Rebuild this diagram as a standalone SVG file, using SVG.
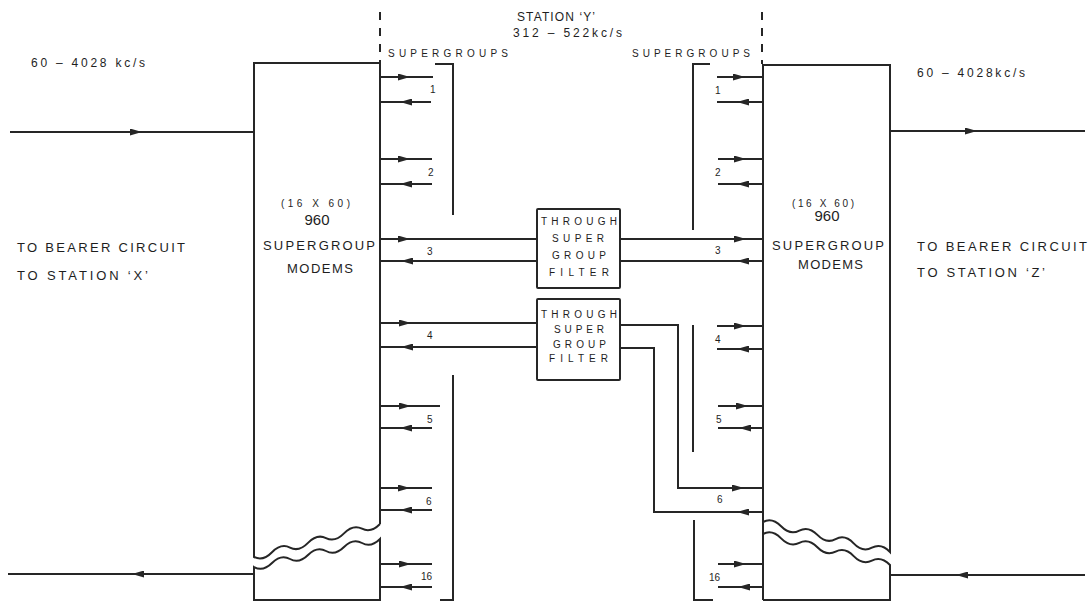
<svg xmlns="http://www.w3.org/2000/svg" width="1089" height="601" viewBox="0 0 1089 601">
<style>
.ln{fill:none;stroke:#262626;stroke-width:2;stroke-linejoin:miter}
.ar{fill:none;stroke:#262626;stroke-width:2;marker-mid:url(#ah)}
.dash{fill:none;stroke:#262626;stroke-width:2;stroke-dasharray:8 8}
.t{font-family:"Liberation Sans","DejaVu Sans",sans-serif;fill:#1e1e1e}
.big{font-size:13px}
.mid{font-size:12px}
.sm{font-size:10px}
.xs{font-size:10px}
</style>
<defs>
<marker id="ah" viewBox="0 0 12 7" refX="6" refY="3.5" markerWidth="12" markerHeight="7" markerUnits="userSpaceOnUse" orient="auto">
<path d="M0,0 L12,3.5 L0,7 z" fill="#262626"/>
</marker>
</defs>
<rect width="1089" height="601" fill="#ffffff"/>

<g id="station-y-header">
<text class="t mid" x="517" y="21" textLength="78" lengthAdjust="spacing">STATION ‘Y’</text>
<text class="t mid" x="513" y="37" textLength="109" lengthAdjust="spacing">312 – 522kc/s</text>
<path class="dash" d="M380,12 L380,62"/>
<path class="dash" d="M762,12 L762,64"/>
<text class="t xs" x="388" y="57" textLength="120" lengthAdjust="spacing">SUPERGROUPS</text>
<text class="t xs" x="632" y="57" textLength="118" lengthAdjust="spacing">SUPERGROUPS</text>
</g>

<g id="left-terminal">
<text class="t mid" x="31" y="67" textLength="114" lengthAdjust="spacing">60 – 4028 kc/s</text>
<text class="t big" x="17" y="252" textLength="168" lengthAdjust="spacing">TO BEARER CIRCUIT</text>
<text class="t big" x="17" y="280" textLength="131" lengthAdjust="spacing">TO STATION ‘X’</text>
</g>

<g id="right-terminal">
<text class="t mid" x="917" y="77" textLength="108" lengthAdjust="spacing">60 – 4028kc/s</text>
<text class="t big" x="917" y="251" textLength="170" lengthAdjust="spacing">TO BEARER CIRCUIT</text>
<text class="t big" x="917" y="277" textLength="128" lengthAdjust="spacing">TO STATION ‘Z’</text>
</g>

<g id="left-modems">
<path class="ln" d="M380,524 L380,63 L254,63 L254,557 Q263,561.6 272,552.3 T290,547.6 T308,542.9 T326,538.1 T344,533.4 T362,528.7 T380,524"/>
<path class="ln" d="M254,600 L254,567 Q263,572 272,563 T290,559 T308,555 T326,551 T344,547 T362,543 T380,539 L380,600 Z"/>
<text class="t sm" x="281" y="207" textLength="69" lengthAdjust="spacing">(16 X 60)</text>
<text class="t" x="317" y="225" font-size="15" text-anchor="middle">960</text>
<text class="t big" x="263" y="250" textLength="112" lengthAdjust="spacing">SUPERGROUP</text>
<text class="t big" x="287" y="273" textLength="66" lengthAdjust="spacing">MODEMS</text>
</g>

<g id="right-modems">
<path class="ln" d="M763,522 Q772.1,517.1 781.1,526.3 T799.3,530.6 T817.4,534.9 T835.6,539.1 T853.7,543.4 T871.9,547.7 T890,552 L890,65 L763,65 L763,600"/>
<path class="ln" d="M763,534 Q772.1,529.2 781.1,538.4 T799.3,542.9 T817.4,547.3 T835.6,551.7 T853.7,556.1 T871.9,560.6 T890,565 L890,600 L763,600"/>
<text class="t sm" x="792" y="207" textLength="62" lengthAdjust="spacing">(16 X 60)</text>
<text class="t" x="827" y="221" font-size="15" text-anchor="middle">960</text>
<text class="t big" x="772" y="250" textLength="112" lengthAdjust="spacing">SUPERGROUP</text>
<text class="t big" x="798" y="269" textLength="65" lengthAdjust="spacing">MODEMS</text>
</g>

<g id="filter-1">
<rect class="ln" x="537" y="209" width="83" height="79" rx="1"/>
<text class="t sm" x="541" y="225" textLength="76" lengthAdjust="spacing">THROUGH</text>
<text class="t sm" x="552" y="242" textLength="52" lengthAdjust="spacing">SUPER</text>
<text class="t sm" x="552" y="259" textLength="54" lengthAdjust="spacing">GROUP</text>
<text class="t sm" x="549" y="276" textLength="60" lengthAdjust="spacing">FILTER</text>
</g>

<g id="filter-2">
<rect class="ln" x="537" y="299" width="83" height="81" rx="1"/>
<text class="t sm" x="541" y="318" textLength="76" lengthAdjust="spacing">THROUGH</text>
<text class="t sm" x="554" y="333" textLength="50" lengthAdjust="spacing">SUPER</text>
<text class="t sm" x="553" y="348" textLength="53" lengthAdjust="spacing">GROUP</text>
<text class="t sm" x="549" y="362" textLength="59" lengthAdjust="spacing">FILTER</text>
</g>

<g id="left-bracket">
<path class="ln" d="M435,64 L453,64 L453,215"/>
<path class="ln" d="M453,375 L453,600 L440,600"/>
</g>

<g id="right-bracket">
<path class="ln" d="M710,64 L693,64 L693,230"/>
<path class="ln" d="M693,325 L693,452"/>
<path class="ln" d="M694,520 L694,600 L713,600"/>
</g>

<g id="channel-labels">
<text class="t xs" x="430" y="93">1</text>
<text class="t xs" x="428" y="176">2</text>
<text class="t xs" x="427" y="255">3</text>
<text class="t xs" x="427" y="339">4</text>
<text class="t xs" x="427" y="423">5</text>
<text class="t xs" x="426" y="505">6</text>
<text class="t xs" x="421" y="580">16</text>
<text class="t xs" x="715" y="94">1</text>
<text class="t xs" x="715" y="176">2</text>
<text class="t xs" x="715" y="254">3</text>
<text class="t xs" x="715" y="343">4</text>
<text class="t xs" x="716" y="423">5</text>
<text class="t xs" x="717" y="503">6</text>
<text class="t xs" x="709" y="581">16</text>
</g>

<g id="connectors">
<path class="ar" d="M10,132 L136,132 L254,132"/>
<path class="ar" d="M254,574 L138,574 L8,574"/>
<path class="ar" d="M890,131 L971,131 L1085,131"/>
<path class="ar" d="M1085,575 L962,575 L890,575"/>
<path class="ar" d="M380,77 L404,77 L433,77"/>
<path class="ar" d="M431,102 L406,102 L380,102"/>
<path class="ar" d="M380,159 L404,159 L432,159"/>
<path class="ar" d="M432,184 L406,184 L380,184"/>
<path class="ar" d="M380,239 L404,239 L537,239"/>
<path class="ar" d="M537,261 L407,261 L380,261"/>
<path class="ar" d="M380,323 L405,323 L537,323"/>
<path class="ar" d="M537,347 L407,347 L380,347"/>
<path class="ar" d="M380,406 L405,406 L440,406"/>
<path class="ar" d="M432,428 L406,428 L380,428"/>
<path class="ar" d="M380,488 L404,488 L432,488"/>
<path class="ar" d="M432,510 L406,510 L380,510"/>
<path class="ar" d="M380,564 L405,564 L432,564"/>
<path class="ar" d="M432,587 L406,587 L380,587"/>
<path class="ar" d="M717,77 L739,77 L762,77"/>
<path class="ar" d="M762,102 L743,102 L717,102"/>
<path class="ar" d="M718,159 L740,159 L762,159"/>
<path class="ar" d="M762,184 L743,184 L718,184"/>
<path class="ar" d="M620,239 L740,239 L762,239"/>
<path class="ar" d="M762,261 L743,261 L620,261"/>
<path class="ar" d="M717,326 L740,326 L762,326"/>
<path class="ar" d="M762,349 L743,349 L717,349"/>
<path class="ar" d="M718,406 L742,406 L762,406"/>
<path class="ar" d="M762,428 L745,428 L718,428"/>
<path class="ar" d="M718,564 L740,564 L762,564"/>
<path class="ar" d="M762,587 L744,587 L718,587"/>
<path class="ln" d="M620,325 L678,325 L678,488 L700,488"/>
<path class="ar" d="M700,488 L738,488 L762,488"/>
<path class="ar" d="M762,512 L743,512 L700,512"/>
<path class="ln" d="M700,512 L654,512 L654,348 L620,348"/>
</g>
</svg>
